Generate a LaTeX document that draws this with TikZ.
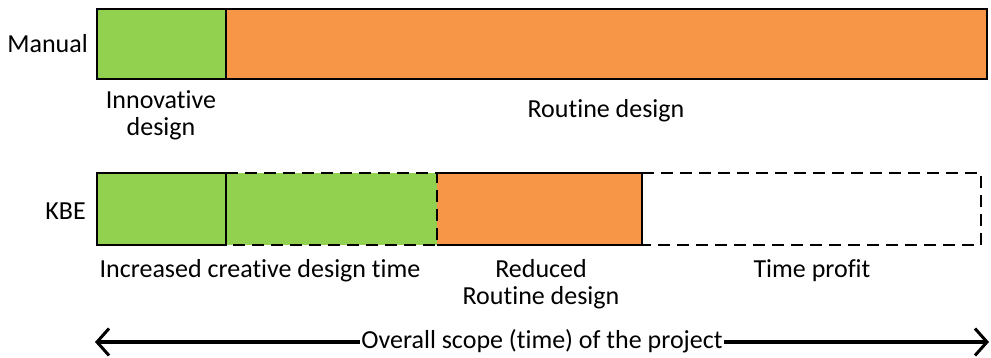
\documentclass[tikz,border=0pt]{standalone}
\usepackage{fontspec}
\setmainfont{Carlito}[RawFeature={-liga;-clig;-dlig}]
\usetikzlibrary{arrows.meta}
\definecolor{phasegreen}{HTML}{92D050}
\definecolor{phaseorange}{HTML}{F79646}
\tikzset{
  bar/.style={draw=black, line width=2pt, inner sep=0pt},
  dashbar/.style={bar, dash pattern=on 12pt off 7pt},
  lbl/.style={font=\fontsize{26}{27}\selectfont, align=center, inner sep=0pt},
  scopetip/.style={-{Straight Barb[length=12pt,width=27pt,line width=3pt]}},
}
\begin{document}
\begin{tikzpicture}[x=1pt,y=-1pt]
\useasboundingbox (0,0) rectangle (991,358);
% Manual process
\filldraw[bar, fill=phasegreen] (97,9) rectangle (226,79);
\filldraw[bar, fill=phaseorange] (226,9) rectangle (987,79);
\node[lbl, anchor=east] (manual) at (88,44) {Manual};
\node[lbl] (innov) at (161,115) {Innovative\\design};
\node[lbl] (routine) at (606,111) {Routine design};
% KBE process
\fill[phasegreen] (97,173) rectangle (437,245);
\fill[phaseorange] (437,173) rectangle (642,245);
\draw[bar] (226,173) -- (97,173) -- (97,245) -- (226,245) -- cycle;
\draw[dashbar] (226,173) -- (437,173) -- (437,245) -- (226,245);
\draw[bar] (437,173) -- (642,173) -- (642,245) -- (437,245);
\draw[dashbar] (642,173) -- (981,173) -- (981,245) -- (642,245);
\node[lbl, anchor=east] (kbe) at (86,211) {KBE};
\node[lbl] (incr) at (260,271) {Increased creative design time};
\node[lbl] (red) at (541,284) {Reduced\\Routine design};
\node[lbl] (profit) at (812,271) {Time profit};
% Overall scope
\coordinate (sL) at (95,342);
\coordinate (sR) at (989,342);
\node[lbl, fill=white, inner sep=1pt] (scope) at (542,341) {Overall scope (time) of the project};
\draw[line width=3.2pt, scopetip] (scope.east |- sR) -- (sR);
\draw[line width=3.2pt, scopetip] (scope.west |- sL) -- (sL);
\end{tikzpicture}
\end{document}
